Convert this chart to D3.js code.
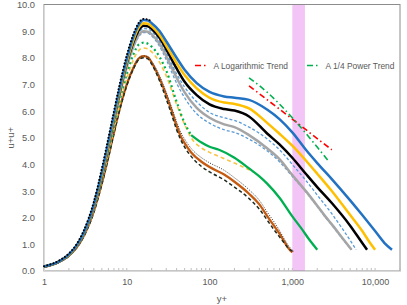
<!DOCTYPE html>
<html><head><meta charset="utf-8">
<script src="https://cdn.jsdelivr.net/npm/d3@7"></script>
<style>
body{margin:0;background:#fff}
svg{display:block}
text{font-family:"Liberation Sans",Arial,sans-serif;fill:#595959}
</style>
</head><body>
<svg id="chart" width="407" height="305"></svg>
<script>
// ---------- data ----------
const xTickValues = [1, 10, 100, 1000, 10000];
const xTickLabels = ["1", "10", "100", "1,000", "10,000"];
const yTickValues = [0, 1, 2, 3, 4, 5, 6, 7, 8, 9, 10];
const bandRange = [1000, 1420];

const yPlusBlue = [1,1.5,2,2.5,3,4,5,6,7,8,10,12,14,16,18,20,25,30,40,50,70,100,150,200,300,500,700,1000,1500,2000,3000,5000,7000,10000,13000,16000];
const blueSolid = [0.17,0.35,0.62,0.98,1.42,2.5,3.7,4.85,5.85,6.7,7.95,8.78,9.25,9.42,9.4,9.3,9.0,8.62,8.0,7.55,7.05,6.72,6.55,6.5,6.42,6.05,5.7,5.2,4.5,4.05,3.45,2.65,2.1,1.5,1.05,0.8];

const yPlusGold = [1,1.5,2,2.5,3,4,5,6,7,8,10,12,14,16,18,20,25,30,40,50,70,100,150,200,300,500,700,1000,1500,2000,3000,5000,7000,8500,10000];
const goldSolid = [0.17,0.35,0.61,0.96,1.4,2.45,3.6,4.75,5.75,6.6,7.85,8.66,9.14,9.3,9.28,9.18,8.85,8.45,7.8,7.35,6.85,6.5,6.32,6.27,6.1,5.55,5.15,4.7,4.1,3.65,3.0,2.1,1.5,1.1,0.8];

const yPlusBlack = [1,1.5,2,2.5,3,4,5,6,7,8,10,12,14,16,18,20,25,30,40,50,70,100,150,200,300,500,700,1000,1500,2000,3000,5000,7000,8000];
const blackSolid = [0.16,0.34,0.6,0.95,1.38,2.42,3.55,4.7,5.7,6.55,7.8,8.58,9.04,9.2,9.18,9.08,8.74,8.32,7.6,7.1,6.6,6.25,6.08,6.02,5.8,5.15,4.75,4.25,3.6,3.15,2.55,1.7,1.05,0.8];

const yPlusLtBlueA = [1,1.5,2,2.5,3,4,5,6,7,8,10,12,14,16,18,20,25,30,40,50,70,100,150,200,300,500,700,1000,1500,2000,3000,4000,5000,5900];
const ltBlueA = [0.16,0.34,0.6,0.94,1.37,2.4,3.52,4.65,5.65,6.5,7.72,8.5,8.95,9.1,9.08,8.98,8.62,8.18,7.4,6.9,6.35,5.95,5.75,5.65,5.4,4.95,4.55,4.0,3.35,2.85,2.15,1.6,1.15,0.8];

const yPlusGray = [1,1.5,2,2.5,3,4,5,6,7,8,10,12,14,16,18,20,25,30,40,50,70,100,150,200,300,500,700,1000,1500,2000,2500,3000,4000,5200];
const graySolid = [0.16,0.34,0.59,0.93,1.36,2.38,3.5,4.6,5.6,6.45,7.65,8.42,8.86,9.0,8.98,8.88,8.52,8.06,7.25,6.7,6.12,5.75,5.5,5.4,5.1,4.6,4.2,3.6,2.95,2.45,2.05,1.75,1.25,0.8];
const ltBlueB = [0.16,0.34,0.59,0.93,1.36,2.38,3.5,4.6,5.6,6.42,7.6,8.37,8.8,8.95,8.93,8.82,8.42,7.93,7.05,6.5,5.9,5.55,5.3,5.2,4.95,4.5,4.1,3.55,2.92,2.42,2.02,1.72,1.22,0.8];

const yPlusGreenDot = [1,1.5,2,2.5,3,4,5,6,7,8,10,12,14,16,18,20,25,30,40,50,60];
const greenDotted = [0.16,0.34,0.6,0.93,1.35,2.35,3.45,4.5,5.45,6.25,7.4,8.12,8.5,8.57,8.53,8.42,8.02,7.52,6.35,5.55,5.1];

const yPlusGreen = [60,80,100,130,200,300,400,500,700,1000,1300,1600,2000];
const greenSolid = [5.1,4.82,4.66,4.55,4.25,3.85,3.55,3.27,2.75,2.05,1.58,1.18,0.8];

const yPlusYellow = [1,1.5,2,2.5,3,4,5,6,7,8,10,12,14,16,18,20,25,30,40,50,60,80,100,130,200,300,350];
const yellowDashed = [0.16,0.33,0.58,0.91,1.32,2.3,3.38,4.4,5.32,6.1,7.22,7.92,8.28,8.37,8.33,8.22,7.82,7.32,6.25,5.5,5.0,4.62,4.45,4.3,4.05,3.8,3.7];

const yPlusOrange = [1,1.5,2,2.5,3,4,5,6,7,8,10,12,14,16,18,20,25,30,35,40,45,50,60,80,100,150,200,300,400,500,600,700,800,900,1000];
const orangeSolid = [0.15,0.33,0.58,0.9,1.3,2.25,3.3,4.3,5.2,5.95,7.0,7.62,7.98,8.06,8.02,7.82,7.22,6.6,6.0,5.45,5.05,4.8,4.45,4.1,3.9,3.62,3.35,2.9,2.5,2.05,1.7,1.4,1.1,0.85,0.7];

const yPlusBlackLow = [1,1.5,2,2.5,3,4,5,6,7,8,10,12,14,16,18,20,25,30,35,40,45,50,60,80,100,150,200,300,400,500,600,700,800,900,1050];
const blackDashed = [0.15,0.32,0.56,0.88,1.27,2.2,3.25,4.25,5.15,5.9,6.95,7.57,7.93,8.0,7.96,7.76,7.12,6.45,5.85,5.3,4.92,4.65,4.3,3.92,3.72,3.42,3.15,2.72,2.32,1.9,1.55,1.28,1.05,0.85,0.72];
const blackDotted = [0.15,0.33,0.58,0.9,1.3,2.26,3.32,4.32,5.22,5.97,7.02,7.64,8.0,8.07,8.03,7.86,7.3,6.7,6.12,5.6,5.2,4.95,4.6,4.25,4.06,3.78,3.5,3.05,2.65,2.2,1.85,1.52,1.2,0.95,0.72];

const yPlusRound = [1,1.5,2,2.5,3,4,5,6,7,8,10,12,14,16,18,20];
const blackRoundDots = [0.18,0.38,0.66,1.03,1.5,2.6,3.85,5.0,6.0,6.85,8.1,8.88,9.32,9.46,9.44,9.35];

const yPlusLogTrend = [300,500,1000,2000,3000];
const logTrend = [6.95,6.42,5.7,4.97,4.55];
const yPlusPowTrend = [300,500,1000,1500,2000,2700];
const powTrend = [7.25,6.7,5.75,5.12,4.65,4.15];

const legendLabels = ["A Logarithmic Trend", "A 1/4 Power Trend"];

// ---------- drawing ----------
const svg = d3.select("#chart");
const L = 44, R = 400, T = 4.5, B = 271;
const x = d3.scaleLog().domain([1, 20000]).range([L, R]);
const y = d3.scaleLinear().domain([0, 10]).range([B, T]);

// band
svg.append("rect")
  .attr("x", x(bandRange[0])).attr("y", T)
  .attr("width", x(bandRange[1]) - x(bandRange[0])).attr("height", B - T)
  .attr("fill", "#F3C4F6");

// plot border
svg.append("rect").attr("x", L).attr("y", T).attr("width", R - L).attr("height", B - T)
  .attr("fill", "none").attr("stroke", "#8C8C8C").attr("stroke-width", 1);

// axes
const xAxis = d3.axisBottom(x).tickValues(xTickValues)
  .tickFormat((d, i) => xTickLabels[i]).tickSize(0).tickPadding(8);
const gx = svg.append("g").attr("transform", `translate(0,${B})`).call(xAxis);
gx.select(".domain").attr("stroke", "#D9D9D9");
gx.selectAll("text").attr("font-size", 9).attr("fill", "#595959")
  .attr("font-family", '"Liberation Sans",Arial,sans-serif');

// minor ticks (inward)
const minor = [];
for (let d = 1; d <= 10000; d *= 10) for (let m = 1; m <= 9; m++) { const v = d * m; if (v <= 20000 && v > 1) minor.push(v); }
svg.append("g").selectAll("line").data(minor).join("line")
  .attr("x1", d => x(d)).attr("x2", d => x(d))
  .attr("y1", B).attr("y2", B - 3)
  .attr("stroke", "#BFBFBF").attr("stroke-width", 1);

const yAxis = d3.axisLeft(y).tickValues(yTickValues).tickFormat(d3.format(".1f")).tickSize(0).tickPadding(9);
const gy = svg.append("g").attr("transform", `translate(${L},0)`).call(yAxis);
gy.select(".domain").attr("stroke", "#D9D9D9");
gy.selectAll("text").attr("font-size", 9.3).attr("fill", "#595959")
  .attr("font-family", '"Liberation Sans",Arial,sans-serif');

// titles
svg.append("text").attr("x", (L + R) / 2).attr("y", 302).attr("text-anchor", "middle")
  .attr("font-size", 9.5).text("y+");
svg.append("text").attr("transform", `translate(14,${(T + B) / 2}) rotate(-90)`)
  .attr("text-anchor", "middle").attr("font-size", 9.5).text("u+u+");

// series
const line = d3.line().x(d => x(d[0])).y(d => y(d[1])).curve(d3.curveMonotoneX);
function draw(xs, vs, color, width, dash, cap) {
  svg.append("path").datum(xs.map((v, i) => [v, vs[i]]))
    .attr("d", line).attr("fill", "none")
    .attr("stroke", color).attr("stroke-width", width)
    .attr("stroke-dasharray", dash || null)
    .attr("stroke-linecap", cap || "butt");
}
draw(yPlusOrange, orangeSolid, "#C55A11", 2.3);
draw(yPlusBlackLow, blackDashed, "#1E2B1E", 1.5, "3.5,2.5");
draw(yPlusBlackLow, blackDotted, "#333333", 1, "1,1.5");
draw(yPlusYellow, yellowDashed, "#F7C443", 1.6, "4,3");
draw(yPlusGreen, greenSolid, "#00B050", 2.3);
draw(yPlusGreenDot, greenDotted, "#00B050", 2.2, "2,3");
draw(yPlusGray, ltBlueB, "#5B9BD5", 1.3, "3,2");
draw(yPlusGray, graySolid, "#A5A5A5", 2.5);
draw(yPlusLtBlueA, ltBlueA, "#5B9BD5", 1.3, "3,2");
draw(yPlusBlack, blackSolid, "#000000", 2.5);
draw(yPlusGold, goldSolid, "#FFC000", 2.5);
draw(yPlusBlue, blueSolid, "#2272C3", 2.5);
draw(yPlusRound, blackRoundDots, "#000000", 2, "0.1,3.2", "round");
draw(yPlusLogTrend, logTrend, "#FF0000", 1.6, "6,3,1.5,3");
draw(yPlusPowTrend, powTrend, "#00B050", 1.6, "6,3,1.5,3");

// legend
const legendItems = [
  { x: 195, color: "#FF0000", label: legendLabels[0] },
  { x: 307, color: "#00B050", label: legendLabels[1] }
];
legendItems.forEach(it => {
  svg.append("line").attr("x1", it.x).attr("x2", it.x + 13).attr("y1", 65.5).attr("y2", 65.5)
    .attr("stroke", it.color).attr("stroke-width", 1.6).attr("stroke-dasharray", "6,3,1.5,3");
  svg.append("text").attr("x", it.x + 18.5).attr("y", 68.5).attr("font-size", 8.4).text(it.label);
});
</script>
</body></html>
